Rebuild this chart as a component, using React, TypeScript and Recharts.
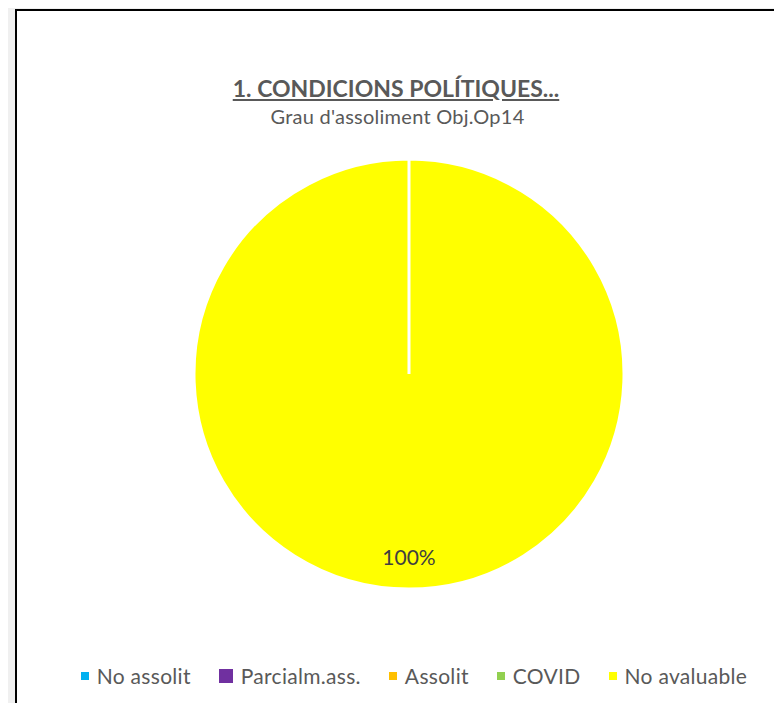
import { PieChart, Pie, Cell, Legend } from 'recharts';

const categories = ['No assolit', 'Parcialm.ass.', 'Assolit', 'COVID', 'No avaluable'];
const values = [0, 0, 0, 0, 1];
const colors = ['#00b0f0', '#7030a0', '#ffc000', '#92d050', '#ffff00'];
const markerSizes = [8, 14, 8, 8, 8];

const TITLE = '1. CONDICIONS POLÍTIQUES...';
const SUBTITLE = "Grau d'assoliment Obj.Op14";

const FONT = 'Lato, "Open Sans", sans-serif';
const TEXT_COLOR = '#595959';

const data = categories.map((name, i) => ({ name, value: values[i] }));
const total = values.reduce((s, v) => s + v, 0);

const renderLabel = (props: any) => {
  const { cx, cy, midAngle, outerRadius, value } = props;
  if (!value) return null;
  const RAD = Math.PI / 180;
  const r = outerRadius * 0.85;
  const x = cx + r * Math.cos(-midAngle * RAD);
  const y = cy + r * Math.sin(-midAngle * RAD);
  return (
    <text
      x={x}
      y={y}
      textAnchor="middle"
      dominantBaseline="central"
      fill="#404040"
      fontSize={21}
      fontFamily={FONT}
    >
      {`${Math.round((value / total) * 100)}%`}
    </text>
  );
};

const renderLegend = () => (
  <div
    style={{
      display: 'flex',
      alignItems: 'center',
      justifyContent: 'center',
      gap: 28,
      fontFamily: FONT,
      fontSize: 21,
      letterSpacing: 0.3,
      color: TEXT_COLOR,
    }}
  >
    {categories.map((name, i) => (
      <div key={name} style={{ display: 'flex', alignItems: 'center', gap: 8 }}>
        <span
          style={{
            display: 'inline-block',
            width: markerSizes[i],
            height: markerSizes[i],
            background: colors[i],
          }}
        />
        <span>{name}</span>
      </div>
    ))}
  </div>
);

export default function App() {
  return (
    <div
      style={{
        position: 'relative',
        margin: -8,
        width: 782,
        height: 711,
        background: '#f0f0f0',
        overflow: 'hidden',
      }}
    >
      {/* chart frame */}
      <div
        style={{
          position: 'absolute',
          left: 15,
          top: 9,
          width: 800,
          height: 720,
          background: '#fff',
          border: '2px solid #000',
        }}
      />

      {/* titles */}
      <div
        style={{
          position: 'absolute',
          left: 0,
          width: 792,
          top: 74,
          textAlign: 'center',
          fontFamily: FONT,
          fontWeight: 700,
          fontSize: 23,
          color: TEXT_COLOR,
          textDecoration: 'underline',
          whiteSpace: 'nowrap',
        }}
      >
        {TITLE}
      </div>
      <div
        style={{
          position: 'absolute',
          left: 0,
          width: 795,
          top: 104,
          textAlign: 'center',
          fontFamily: FONT,
          fontSize: 20,
          letterSpacing: 0.25,
          color: TEXT_COLOR,
          whiteSpace: 'nowrap',
        }}
      >
        {SUBTITLE}
      </div>

      <div style={{ position: 'absolute', left: 0, top: 0 }}>
        <PieChart width={782} height={711} margin={{ top: 0, right: 0, bottom: 0, left: 0 }}>
          <Pie
            data={data}
            dataKey="value"
            nameKey="name"
            cx={409}
            cy={374}
            outerRadius={215}
            startAngle={90}
            endAngle={-270}
            stroke="#fff"
            strokeWidth={3}
            labelLine={false}
            label={renderLabel}
            isAnimationActive={false}
          >
            {data.map((d, i) => (
              <Cell key={d.name} fill={colors[i]} />
            ))}
          </Pie>
          <Legend
            content={renderLegend}
            wrapperStyle={{ position: 'absolute', left: 23, width: 782, top: 663 }}
          />
        </PieChart>
      </div>
    </div>
  );
}
